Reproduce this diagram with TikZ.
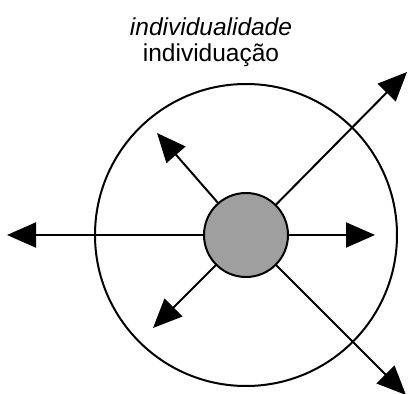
\documentclass[tikz,border=0pt]{standalone}
\usepackage{fontspec}
\setmainfont{Liberation Sans}
\usetikzlibrary{arrows.meta}
\usetikzlibrary{positioning}
\usetikzlibrary{calc}
\tikzset{
core/.style = {circle, draw, line width=2pt, fill=gray!75,
               minimum size=#1, inner sep=0pt, outer sep=0pt},
core/.default = 84pt, % diameter of the shaded centre
ring/.style = {circle, draw, line width=2pt, minimum size=302pt, inner sep=0pt},
ray/.style = {line width=2pt, -{Triangle[length=29pt, width=25pt]}},
word/.style = {font=\fontsize{24.5}{29}\selectfont, inner sep=0pt}
}
\newcommand{\tip}[2]{\coordinate (#1) at (#2);}
\newcommand{\ray}[1]{\draw[ray] (core) -- (#1);}

\begin{document}
\begin{tikzpicture}[x=1pt, y=1pt]
        \useasboundingbox (0,0) rectangle (408,394);
        \node[word] (quality) at (211,367) {\itshape individualidade};
        \node[word] (process) at (211,339) {individuação};
        \node[ring] (outer) at (246,159) {};
        \node[core] (core) at (246,159) {};
        \tip{west}{7,159};
        \tip{east}{375,159};
        \tip{northwest}{157,261};
        \tip{southwest}{153,66};
        \tip{northeast}{407,322};
        \tip{southeast}{406,-1};
        \ray{west};
        \ray{east};
        \ray{northwest};
        \ray{southwest};
        \ray{northeast};
        \ray{southeast};
        \end{tikzpicture}
\end{document}
